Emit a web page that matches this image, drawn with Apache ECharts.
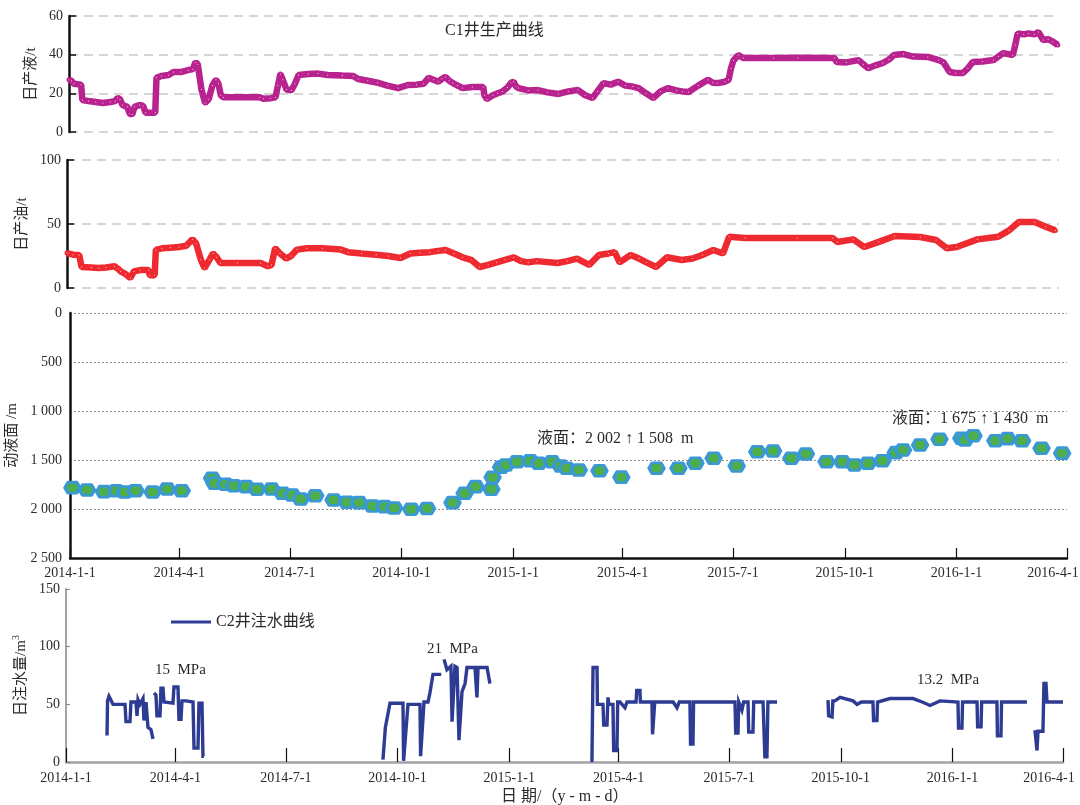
<!DOCTYPE html>
<html>
<head>
<meta charset="utf-8">
<script src="https://cdn.jsdelivr.net/npm/echarts@6/dist/echarts.min.js"></script>
<style>
html,body{margin:0;padding:0;background:#fff;}
#chart{width:1080px;height:805px;}
</style>
</head>
<body>
<div id="chart"></div>
<script>
// Dates are counted in days from 2014-1-1; ticks fall on the first day of each quarter.
const dateTicks = [0, 90, 181, 273, 365, 455, 546, 638, 730, 821];
const dateTickLabels = ['2014-1-1','2014-4-1','2014-7-1','2014-10-1','2015-1-1','2015-4-1','2015-7-1','2015-10-1','2016-1-1','2016-4-1'];

// C1 well: daily liquid production, t  [day, value]
const liquid = [
  [0,27],[2,26.5],[4,25],[10,24.5],[11,16.5],[16,16],[22,15.5],[28,15],[34,15.5],[38,16],[40,17.6],[42,17],[44,14],
  [48,13],[50,9.5],[52,9],[54,13],[58,14],[61,13.5],[63,10],[71,10],[72,28],[76,29],[82,29.5],[86,31],[92,31],
  [98,32],[102,32.5],[104,36],[106,35],[109,22],[112,15],[115,17],[118,24],[121,27],[123,25],[125,19],[127,18],
  [157,18],[160,17.2],[166,17.5],[170,18],[172,24],[174,30],[176,27],[179,22],[183,21.5],[186,25],[189,29.5],
  [197,30],[205,30.2],[213,29.5],[225,29.2],[234,29],[238,27.4],[246,26.5],[254,25.5],[262,24],[271,22.7],
  [279,24.3],[286,24.5],[292,25],[296,28],[300,27],[304,26],[307,27.5],[310,28.5],[313,26.5],[316,25.3],[320,24],
  [324,22.7],[332,23.3],[341,23.3],[342,19],[344,17],[349,19],[353,20],[357,21],[361,23],[364,25.5],[366,26],
  [368,23.5],[370,22.7],[378,21.5],[386,21.7],[394,20.5],[403,19.7],[411,21],[419,21.7],[425,19],[431,17.6],
  [435,21],[440,25.3],[446,24.5],[452,26],[458,24],[464,23.5],[469,22.7],[475,20],[481,17.6],[487,21],[493,22.7],
  [500,21.5],[505,21],[510,20.7],[518,24],[526,27],[530,25.5],[534,25.3],[540,26],[543,27],[545,33],[547,37],
  [551,39.8],[555,38.3],[580,38.3],[600,38.4],[630,38.3],[632,36.2],[640,36],[650,37.2],[654,35],[658,33],
  [664,34.5],[670,35.7],[675,37.5],[679,39.8],[687,40.3],[695,39],[707,38.8],[716,37.2],[720,36],[725,31],
  [730,30.5],[736,30.5],[740,33],[744,36.2],[752,36.5],[761,37.2],[765,39],[769,40.8],[777,39.8],[779,45],
  [781,51],[786,50.5],[790,51],[795,50.5],[798,51.7],[802,47.6],[806,48],[810,46.7],[814,45]
];

// C1 well: daily oil production, t  [day, value]
const oil = [
  [0,27.3],[5,26],[10,25.8],[12,16.4],[20,16],[26,15.6],[32,16],[39,17],[42,15],[44,13],[48,11],[52,7.8],[55,13],
  [60,14],[67,14],[68,10],[72,10],[73,29.7],[78,31],[85,31.5],[92,32],[98,33],[103,38],[106,35],[110,22],[113,15.6],
  [117,22],[120,27],[123,24],[126,19.5],[140,19.5],[159,19.5],[165,17],[168,18],[171,31],[175,27],[180,23],[184,25],
  [189,30],[197,31],[210,31],[225,30],[231,28],[242,27],[254,26],[264,25],[274,23.4],[282,27],[290,27.5],[298,28],
  [305,29],[311,29.7],[318,27],[325,24],[332,22],[339,16.4],[346,18],[353,20],[360,22],[367,24],[373,21],[379,20],
  [386,21],[403,19.5],[411,21],[419,23],[429,18],[437,25.8],[445,27],[450,28],[454,20],[463,25.8],[470,23],[476,20],
  [484,16.4],[493,24],[505,21.9],[514,23],[522,25.8],[531,29.7],[539,27],[544,40],[557,39],[600,39],[629,39],
  [633,36],[646,38],[655,32],[667,36],[680,40.6],[701,39.8],[714,37.5],[723,31],[731,32],[748,38],[765,40],
  [774,45],[782,51.6],[795,51.6],[804,47.8],[812,45]
];

// Dynamic fluid level, m  [day, depth]
const fluidLevel = [
  [2,1782],[14,1806],[28,1823],[38,1813],[45,1827],[54,1813],[68,1827],[80,1796],[92,1813],
  [117,1687],[119,1738],[128,1748],[135,1762],[145,1772],[154,1799],[166,1796],[175,1840],[183,1857],[190,1898],
  [202,1864],[217,1908],[228,1932],[238,1935],[249,1969],[259,1976],[267,1990],[281,2002],[294,1995],
  [315,1935],[325,1840],[334,1772],[347,1799],[348,1677],[355,1574],[359,1551],[368,1517],[379,1508],[386,1534],
  [397,1517],[404,1561],[409,1585],[419,1602],[436,1609],[454,1675],[483,1585],[501,1585],[515,1534],[530,1483],
  [549,1561],[566,1415],[579,1408],[594,1483],[606,1439],[623,1517],[636,1517],[646,1551],[657,1534],[669,1507],
  [680,1425],[686,1398],[700,1347],[716,1289],[734,1279],[737,1296],[744,1252],[762,1303],[772,1282],[784,1303],
  [800,1381],[817,1430]
];

// C2 well: daily water injection, m³  [day, value]; '-' breaks the line while the well is shut in
const injection = [
  [33.8,23],[34.2,53],[35.4,57],[37,56],[38.7,50],[48.6,50],[49.4,35],[52.7,35],[53.5,52],[57.6,52],[58.5,40],
  [59.3,54],[60.9,50],[63.4,55],[64.2,36],[65.9,52],[67.5,30],[70,28],[71.6,20],
  [72,'-'],
  [72.5,60],[74.1,58],[74.9,40],[77.4,40],[78.2,64],[79.9,64],[80.7,52],[88.1,51],[88.9,65],[92.2,65],[93,37],
  [94.7,37],[95.5,53],[98.8,53],[104.6,52],[105.4,12],[108.7,12],[109.5,51],[112,51],[112.8,5],[113.6,5],
  [200,'-'],
  [261,2],[263,30],[266.8,51],[277.5,51],[278,1],[279.2,1],[281.6,50],[291.5,50],[292,5],[293.1,5],[294.8,52],
  [298.1,52],[299.7,60],[302.2,76],[309,76],
  [310,'-'],
  [311.3,89],[313.7,80],[317,83],[317.9,35],[320.3,83],[322,82],[323.6,19],[326.1,61],[328.6,68],[330.2,82],
  [336.8,82],[338.4,56],[339.3,82],[346.7,82],[349.1,68],
  [400,'-'],
  [433.1,0],[434,82],[437.3,82],[437.6,50],[442.2,50],[442.8,32],[445.5,32],[446.3,56],[447,50],[450.4,50],
  [451,10],[453.7,10],[454.3,52],[456.2,52],[460.3,47],[462,52],[469.4,52],[470,62],[472.6,62],[473,52],
  [482.5,52],[483,24],[484.2,24],[484.8,52],[500,52],[503.1,47],[505,52],[513.8,52],[514.3,15.6],[516.3,15.6],
  [516.8,52],[538.5,52],[550.9,52],[551.5,25],[553.4,25],[554,52],[556.6,45],[558,52],[561.6,52],[562.2,26],
  [565.7,26],[566.3,52],[574,52],[575.5,4.6],[577.2,4.6],[578,52],[585.5,52],
  [600,'-'],
  [627.5,53.7],[628,40],[630.8,39],[631.5,53],[633.2,53],[637.4,56],[648.1,53],[651.4,50],[655,52],[664.5,52],
  [665,36],[667.8,36],[668.3,52],[678.5,55],[697.5,55],[705,52],[711.5,49],[719.7,53],[734.5,52],[735,29.5],
  [737.8,29.5],[738.3,52],[750.2,52],[750.7,30.6],[753.5,30.6],[754,52],[766.6,52],[767,22.8],[769.9,22.8],
  [770.4,52],[791.3,52],
  [795,'-'],
  [797.9,27.7],[799.6,10],[800.4,26.6],[804.5,26.6],[805.3,68],[807,68],[807.8,52],[821,52]
];

const FONT = '"Liberation Serif", "Times New Roman", "Noto Sans CJK SC", serif';
const TEXT_COLOR = '#2a2a2a';

// The last date label is nudged left so it stays inside the canvas.
function dateLabel(v) {
  const i = dateTicks.indexOf(Math.round(v));
  if (i < 0) return '';
  return i === dateTicks.length - 1 ? '{last|' + dateTickLabels[i] + '}' : dateTickLabels[i];
}
function spacedThousands(v) {
  return String(v).replace(/\B(?=(\d{3})+$)/g, ' ');
}

const chart = echarts.init(document.getElementById('chart'), null, { renderer: 'canvas' });

const tickLabelStyle = { fontFamily: FONT, fontSize: 14, color: TEXT_COLOR };
const dateLabelRich = { last: { fontFamily: FONT, fontSize: 14, color: TEXT_COLOR, padding: [0, 28, 0, 0] } };
const nameStyle = { fontFamily: FONT, fontSize: 15, color: TEXT_COLOR };
const dashedGrid = { show: true, lineStyle: { color: '#c9c9c9', width: 1.5, type: [9, 6] } };
// Elongated hexagon used for the fluid-level readings
const hexSymbol = 'path://M0,5 L3,0 L11,0 L14,5 L11,10 L3,10 Z';

function hiddenX(grid, max) {
  return { type: 'value', gridIndex: grid, min: 0, max: max, show: false, splitLine: { show: false } };
}
function panel(left, top, width, height) {
  return { left: left, top: top, width: width, height: height, containLabel: false, outerBoundsMode: 'none' };
}

chart.setOption({
  animation: false,
  backgroundColor: '#ffffff',
  textStyle: { fontFamily: FONT },
  grid: [
    panel(69, 16, 990, 116),
    panel(67, 160, 992, 128),
    panel(70, 313, 997, 245),
    panel(66, 589, 997, 173)
  ],
  legend: {
    data: ['C2井注水曲线'],
    left: 166, top: 609,
    icon: 'rect', itemWidth: 40, itemHeight: 3, itemGap: 4,
    textStyle: { fontFamily: FONT, fontSize: 16, color: TEXT_COLOR }
  },
  xAxis: [
    hiddenX(0, 815),
    hiddenX(1, 815),
    {
      type: 'value', gridIndex: 2, min: 0, max: 821,
      axisLine: { show: true, onZero: false, lineStyle: { color: '#111', width: 2.5 } },
      axisTick: { show: true, inside: true, length: 10, customValues: dateTicks, lineStyle: { color: '#111', width: 1.2 } },
      axisLabel: { customValues: dateTicks, formatter: dateLabel, margin: 8, rich: dateLabelRich, ...tickLabelStyle },
      splitLine: { show: false }
    },
    {
      type: 'value', gridIndex: 3, min: 0, max: 821,
      axisLine: { show: true, onZero: false, lineStyle: { color: '#a3a3a3', width: 2.5 } },
      axisTick: { show: true, inside: true, length: 14, customValues: dateTicks, lineStyle: { color: '#111', width: 1.2 } },
      axisLabel: { customValues: dateTicks, formatter: dateLabel, margin: 9, rich: dateLabelRich, ...tickLabelStyle },
      splitLine: { show: false }
    }
  ],
  yAxis: [
    {
      type: 'value', gridIndex: 0, min: 0, max: 60, interval: 20,
      name: '日产液/t', nameLocation: 'middle', nameGap: 28, nameTextStyle: nameStyle,
      axisLine: { show: true, lineStyle: { color: '#111', width: 2.5 } },
      axisTick: { show: true, inside: true, length: 7, lineStyle: { color: '#111', width: 1.5 } },
      axisLabel: { margin: 6, ...tickLabelStyle },
      splitLine: dashedGrid
    },
    {
      type: 'value', gridIndex: 1, min: 0, max: 100, interval: 50,
      name: '日产油/t', nameLocation: 'middle', nameGap: 26, nameTextStyle: nameStyle,
      axisLine: { show: true, lineStyle: { color: '#111', width: 2.5 } },
      axisTick: { show: true, inside: true, length: 7, lineStyle: { color: '#111', width: 1.5 } },
      axisLabel: { margin: 6, ...tickLabelStyle },
      splitLine: dashedGrid
    },
    {
      type: 'value', gridIndex: 2, min: 0, max: 2500, interval: 500, inverse: true,
      name: '动液面 /m', nameLocation: 'middle', nameGap: 42, nameTextStyle: nameStyle,
      axisLine: { show: true, lineStyle: { color: '#111', width: 2.5 } },
      axisTick: { show: false },
      axisLabel: { margin: 8, formatter: spacedThousands, ...tickLabelStyle },
      splitLine: { show: true, lineStyle: { color: '#8f8f8f', width: 1, type: [2, 2] } }
    },
    {
      type: 'value', gridIndex: 3, min: 0, max: 150, interval: 50,
      name: '日注水量/m{sup|3}', nameLocation: 'middle', nameGap: 33,
      nameTextStyle: {
        ...nameStyle,
        rich: { sup: { fontFamily: FONT, fontSize: 10, color: TEXT_COLOR, verticalAlign: 'top', padding: [0, 0, 9, 0] } }
      },
      axisLine: { show: true, lineStyle: { color: '#a3a3a3', width: 2 } },
      axisTick: { show: true, inside: true, length: 4, lineStyle: { color: '#8a8a8a', width: 1.2 } },
      axisLabel: { margin: 6, ...tickLabelStyle },
      splitLine: { show: false }
    }
  ],
  series: [
    {
      name: '日产液', type: 'line', xAxisIndex: 0, yAxisIndex: 0, data: liquid,
      symbol: 'emptyCircle', symbolSize: 3, showAllSymbol: true,
      lineStyle: { color: '#b8238f', width: 6.5 },
      itemStyle: { color: '#b8238f', borderWidth: 0.8 },
      clip: false
    },
    {
      name: '日产油', type: 'line', xAxisIndex: 1, yAxisIndex: 1, data: oil,
      symbol: 'emptyCircle', symbolSize: 3, showAllSymbol: true,
      lineStyle: { color: '#ee2a30', width: 6.5 },
      itemStyle: { color: '#ee2a30', borderWidth: 0.8 },
      clip: false
    },
    {
      name: '动液面', type: 'scatter', xAxisIndex: 2, yAxisIndex: 2, data: fluidLevel,
      symbol: hexSymbol, symbolSize: [15, 11],
      itemStyle: { color: '#4eae4a', borderColor: '#3a98d6', borderWidth: 3, borderJoin: 'round', opacity: 1 },
      clip: false
    },
    {
      name: 'C2井注水曲线', type: 'line', xAxisIndex: 3, yAxisIndex: 3, data: injection,
      symbol: 'none', connectNulls: false,
      lineStyle: { color: '#2d3b93', width: 3.4, join: 'miter' },
      itemStyle: { color: '#2d3b93' },
      clip: false
    }
  ],
  graphic: [
    { type: 'text', left: 445, top: 23, style: { text: 'C1井生产曲线', font: '16px ' + FONT, fill: TEXT_COLOR } },
    { type: 'text', left: 537, top: 431, style: { text: '液面：2 002 ↑ 1 508  m', font: '16px ' + FONT, fill: TEXT_COLOR } },
    { type: 'text', left: 892, top: 411, style: { text: '液面：1 675 ↑ 1 430  m', font: '16px ' + FONT, fill: TEXT_COLOR } },
    { type: 'text', left: 155, top: 663, style: { text: '15  MPa', font: '15px ' + FONT, fill: TEXT_COLOR } },
    { type: 'text', left: 427, top: 642, style: { text: '21  MPa', font: '15px ' + FONT, fill: TEXT_COLOR } },
    { type: 'text', left: 917, top: 673, style: { text: '13.2  MPa', font: '15px ' + FONT, fill: TEXT_COLOR } },
    { type: 'text', left: 501, top: 789, style: { text: '日 期/（y - m - d）', font: '16px ' + FONT, fill: TEXT_COLOR } }
  ]
});
</script>
</body>
</html>
